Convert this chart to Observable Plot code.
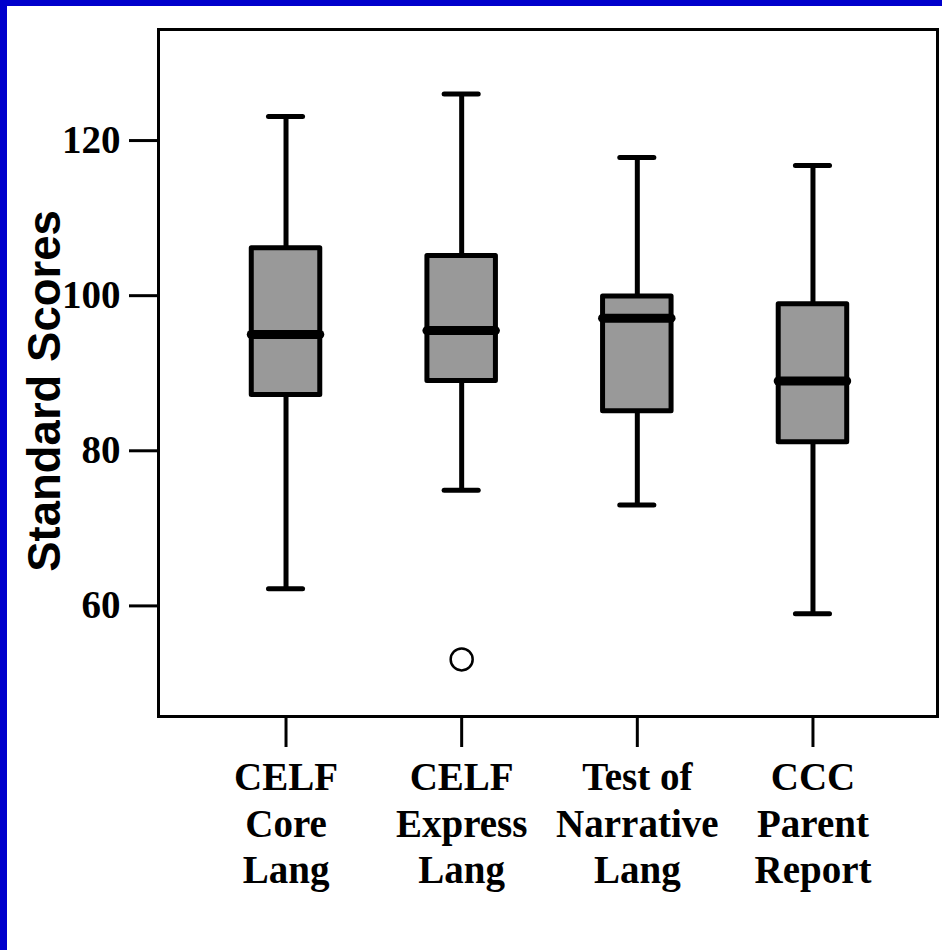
<!DOCTYPE html>
<html>
<head>
<meta charset="utf-8">
<script src="https://cdn.jsdelivr.net/npm/d3@7"></script>
<script src="https://cdn.jsdelivr.net/npm/@observablehq/plot@0.6"></script>
<style>
  html, body { margin: 0; padding: 0; background: #ffffff; overflow: hidden; }
  #frame { border-left: 7px solid #0000cc; border-top: 6px solid #0000cc; width: 935px; height: 944px; background: #ffffff; }
</style>
</head>
<body>
<div id="frame"></div>
<script>
// ---- Data ----
const categories = ["CELF\nCore\nLang", "CELF\nExpress\nLang", "Test of\nNarrative\nLang", "CCC\nParent\nReport"];
const whiskerHigh = [123.1, 126.0, 117.8, 116.8];
const q3Values    = [106.1, 105.1, 99.9, 98.9];
const medianVals  = [95.0, 95.5, 97.1, 89.0];
const q1Values    = [87.2, 89.0, 85.1, 81.1];
const whiskerLow  = [62.2, 74.9, 73.0, 59.0];
const outlierCat  = [2];
const outlierVal  = [53.1];
const yTicks = [60, 80, 100, 120];
const yLabel = "Standard Scores";

// ---- Build table ----
const boxes = categories.map((c, i) => ({
  pos: i + 1, label: c,
  hi: whiskerHigh[i], q3: q3Values[i], med: medianVals[i], q1: q1Values[i], lo: whiskerLow[i]
}));
const outliers = outlierCat.map((c, i) => ({pos: c, value: outlierVal[i]}));

const boxHalf = 0.195;
const capHalf = 0.097;
const serif = "'Liberation Serif', 'Times New Roman', serif";

const chart = Plot.plot({
  width: 935,
  height: 944,
  marginLeft: 151,
  marginRight: 5,
  marginTop: 23,
  marginBottom: 234,
  style: {background: "#ffffff", fontFamily: serif, color: "#000", overflow: "visible"},
  x: {domain: [0.274, 4.709], axis: null},
  y: {domain: [45.74, 134.32], axis: null},
  marks: [
    Plot.frame({stroke: "#000", strokeWidth: 3}),
    Plot.axisY({
      ticks: yTicks, tickSize: 29, tickPadding: 9, label: null,
      fontSize: 39, fontWeight: "bold", fontFamily: serif, strokeWidth: 3, stroke: "#000"
    }),
    Plot.axisX({
      ticks: boxes.map(d => d.pos), tickFormat: d => categories[d - 1],
      tickSize: 31, tickPadding: 10, label: null,
      fontSize: 39, fontWeight: "bold", fontFamily: serif, lineHeight: 1.19,
      strokeWidth: 3, stroke: "#000"
    }),
    // whisker stems
    Plot.ruleX(boxes, {x: "pos", y1: "lo", y2: "hi", stroke: "#000", strokeWidth: 5}),
    // boxes
    Plot.rect(boxes, {
      x1: d => d.pos - boxHalf, x2: d => d.pos + boxHalf, y1: "q1", y2: "q3",
      fill: "#999999", stroke: "#000", strokeWidth: 5, strokeLinejoin: "round"
    }),
    // medians
    Plot.ruleY(boxes, {
      y: "med", x1: d => d.pos - boxHalf, x2: d => d.pos + boxHalf,
      stroke: "#000", strokeWidth: 9, strokeLinecap: "round"
    }),
    // whisker caps
    Plot.ruleY(boxes, {
      y: "hi", x1: d => d.pos - capHalf, x2: d => d.pos + capHalf,
      stroke: "#000", strokeWidth: 5, strokeLinecap: "round"
    }),
    Plot.ruleY(boxes, {
      y: "lo", x1: d => d.pos - capHalf, x2: d => d.pos + capHalf,
      stroke: "#000", strokeWidth: 5, strokeLinecap: "round"
    }),
    // outliers
    Plot.dot(outliers, {x: "pos", y: "value", r: 11, stroke: "#000", strokeWidth: 2.5, fill: "#ffffff"}),
    // y-axis title
    Plot.text([yLabel], {
      text: d => d, frameAnchor: "left", dx: -113, dy: 18, rotate: -90,
      fontSize: 45.5, fontWeight: "bold", fontFamily: "'Liberation Sans', Arial, sans-serif",
      fill: "#000", textAnchor: "middle", lineAnchor: "middle"
    })
  ]
});
document.getElementById("frame").appendChild(chart);
</script>
</body>
</html>
